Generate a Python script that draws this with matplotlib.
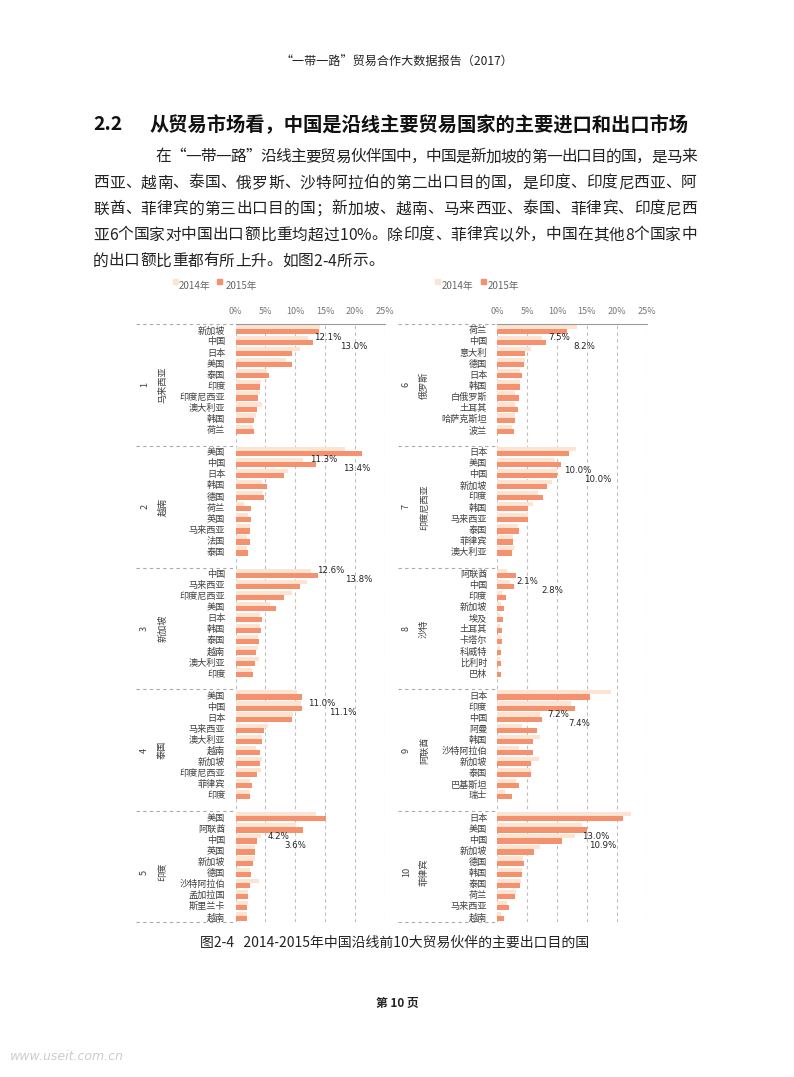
import numpy as np
import matplotlib
matplotlib.use("Agg")
import matplotlib.pyplot as plt
from matplotlib.patches import Rectangle

plt.rcParams['font.family'] = ['Noto Sans CJK SC', 'DejaVu Sans']

# 10 reporting countries, top-10 export destinations each (share of exports, %)
group_names = ["马来西亚", "越南", "新加坡", "泰国", "印度",
               "俄罗斯", "印度尼西亚", "沙特", "阿联酋", "菲律宾"]

partners = [
    ["新加坡", "中国", "日本", "美国", "泰国", "印度", "印度尼西亚", "澳大利亚", "韩国", "荷兰"],
    ["美国", "中国", "日本", "韩国", "德国", "荷兰", "英国", "马来西亚", "法国", "泰国"],
    ["中国", "马来西亚", "印度尼西亚", "美国", "日本", "韩国", "泰国", "越南", "澳大利亚", "印度"],
    ["美国", "中国", "日本", "马来西亚", "澳大利亚", "越南", "新加坡", "印度尼西亚", "菲律宾", "印度"],
    ["美国", "阿联酋", "中国", "英国", "新加坡", "德国", "沙特阿拉伯", "孟加拉国", "斯里兰卡", "越南"],
    ["荷兰", "中国", "意大利", "德国", "日本", "韩国", "白俄罗斯", "土耳其", "哈萨克斯坦", "波兰"],
    ["日本", "美国", "中国", "新加坡", "印度", "韩国", "马来西亚", "泰国", "菲律宾", "澳大利亚"],
    ["阿联酋", "中国", "印度", "新加坡", "埃及", "土耳其", "卡塔尔", "科威特", "比利时", "巴林"],
    ["日本", "印度", "中国", "阿曼", "韩国", "沙特阿拉伯", "新加坡", "泰国", "巴基斯坦", "瑞士"],
    ["日本", "美国", "中国", "新加坡", "德国", "韩国", "泰国", "荷兰", "马来西亚", "越南"],
]

share_2014 = [
    [14.1, 12.1, 10.8, 8.5, 5.2, 4.2, 4.1, 4.4, 3.5, 2.9],
    [18.3, 11.3, 8.7, 4.5, 4.6, 1.4, 2.1, 2.4, 1.9, 2.0],
    [12.6, 11.9, 9.4, 5.8, 4.1, 4.1, 3.8, 3.7, 3.9, 2.7],
    [10.3, 11.0, 9.6, 5.5, 4.4, 3.5, 4.5, 4.3, 2.4, 2.4],
    [13.4, 10.2, 4.2, 3.2, 3.3, 2.4, 4.0, 2.1, 2.1, 1.9],
    [13.4, 7.5, 5.7, 4.6, 3.8, 3.8, 3.0, 2.9, 3.0, 2.5],
    [13.1, 9.6, 10.0, 9.1, 6.8, 5.9, 5.1, 3.5, 2.7, 2.8],
    [1.7, 2.1, 0.8, 0.6, 0.4, 0.4, 0.6, 0.5, 0.45, 0.35],
    [19.0, 12.3, 7.2, 4.2, 7.2, 3.6, 7.0, 5.7, 3.1, 1.3],
    [22.4, 14.1, 13.0, 7.2, 4.3, 4.2, 3.9, 3.1, 1.6, 0.6],
]

share_2015 = [
    [13.9, 13.0, 9.4, 9.4, 5.6, 4.1, 3.7, 3.6, 3.1, 3.1],
    [21.2, 13.4, 8.1, 5.2, 4.8, 2.6, 2.6, 2.5, 2.4, 2.1],
    [13.8, 10.8, 8.1, 6.7, 4.4, 4.3, 3.9, 3.4, 3.3, 3.0],
    [11.2, 11.1, 9.4, 4.8, 4.5, 4.1, 4.1, 3.6, 2.8, 2.4],
    [15.2, 11.3, 3.6, 3.3, 2.9, 2.6, 2.5, 2.1, 2.0, 2.0],
    [11.6, 8.2, 4.7, 4.5, 4.2, 3.8, 3.6, 3.5, 3.0, 2.8],
    [12.0, 10.7, 10.0, 8.3, 7.7, 5.1, 5.1, 3.6, 2.6, 2.4],
    [3.2, 2.8, 1.45, 1.1, 0.95, 0.8, 0.8, 0.7, 0.7, 0.7],
    [15.5, 13.0, 7.4, 6.6, 5.9, 5.9, 5.7, 5.7, 3.6, 2.5],
    [21.0, 15.0, 10.9, 6.1, 4.5, 4.2, 3.8, 3.0, 2.0, 1.2],
]

x_ticks = [0, 5, 10, 15, 20, 25]
legend_labels = ["2014年", "2015年"]

header = "“一带一路”贸易合作大数据报告（2017）"
title_num = "2.2"
title = "从贸易市场看，中国是沿线主要贸易国家的主要进口和出口市场"
body = [
    "在“一带一路”沿线主要贸易伙伴国中，中国是新加坡的第一出口目的国，是马来",
    "西亚、越南、泰国、俄罗斯、沙特阿拉伯的第二出口目的国，是印度、印度尼西亚、阿",
    "联酋、菲律宾的第三出口目的国；新加坡、越南、马来西亚、泰国、菲律宾、印度尼西",
    "亚6个国家对中国出口额比重均超过10%。除印度、菲律宾以外，中国在其他8个国家中",
    "的出口额比重都有所上升。如图2-4所示。",
]
caption = "图2-4   2014-2015年中国沿线前10大贸易伙伴的主要出口目的国"
footer = "第 10 页"

light = "#fde4d2"
dark = "#f4916f"
grid_col = "#bdbdbd"

W, H = 794, 1077
fig = plt.figure(figsize=(W / 100, H / 100), dpi=100)
fig.patch.set_facecolor("white")


def fx(px):
    return px / W


def fy(py):
    return 1 - py / H


ax_left = fig.add_axes([fx(235.5), fy(922), 149.5 / W, 598 / H])
ax_right = fig.add_axes([fx(497.3), fy(922), 149.4 / W, 598 / H])

rows_per_group = 11
for col, ax in enumerate([ax_left, ax_right]):
    ax.set_xlim(0, 25)
    ax.set_ylim(54, 0)
    ax.set_axisbelow(True)
    for gi in range(5):
        g = col * 5 + gi
        base = gi * rows_per_group
        pos = base + np.arange(len(partners[g]))
        ax.barh(pos + 0.265, share_2014[g], height=0.37, color=light, zorder=2)
        ax.barh(pos + 0.685, share_2015[g], height=0.47, color=dark, zorder=3)
        for r, name in enumerate(partners[g]):
            ax.text(-1.7, pos[r] + 0.62, name, ha='right', va='center',
                    fontsize=6.6, color='#404040', clip_on=False)
        ci = partners[g].index("中国")
        v14 = share_2014[g][ci]
        v15 = share_2015[g][ci]
        ax.text(v14 + 1.1, pos[ci] + 0.24, f"{v14:.1f}%", ha='left', va='center',
                fontsize=6.2, color='#222222', family='DejaVu Sans', zorder=5)
        ax.text(v15 + 4.5, pos[ci] + 1.05, f"{v15:.1f}%", ha='left', va='center',
                fontsize=6.2, color='#222222', family='DejaVu Sans', zorder=5)
        ax.text(-15.2, base + 5.5, str(g + 1), rotation=90, ha='center', va='center',
                fontsize=6.6, color='#404040', clip_on=False)
        ax.text(-12.2, base + 5.5, group_names[g], rotation=90, ha='center', va='center',
                fontsize=6.6, color='#404040', clip_on=False)
        ax.plot([-16.7, 0], [base, base], ls=(0, (3, 3)), color='#aaaaaa', lw=0.8,
                clip_on=False)
    ax.plot([-16.7, 0], [54, 54], ls=(0, (3, 3)), color='#aaaaaa', lw=0.8, clip_on=False)

    ax.set_xticks(x_ticks)
    ax.set_xticklabels([f"{t}%" for t in x_ticks])
    ax.xaxis.tick_top()
    ax.tick_params(axis='x', length=0, pad=6, labelsize=6.5, labelcolor='#777777')
    ax.set_yticks([])
    ax.grid(axis='x', ls=(0, (3, 3)), color=grid_col, lw=0.8)
    for s in ['left', 'right', 'bottom']:
        ax.spines[s].set_visible(False)
    ax.spines['top'].set_color('#999999')
    ax.spines['top'].set_linewidth(0.8)

# legends above each column
for sq_x, txt_x in [((173, 217), (179, 225.5)), ((435, 481), (442, 488))]:
    for k, c in enumerate([light, dark]):
        fig.add_artist(Rectangle((fx(sq_x[k]), fy(283.5)), 4.5 / W, 4.5 / H,
                                 transform=fig.transFigure, color=c))
        fig.text(fx(txt_x[k]), fy(286.5), legend_labels[k], ha='left', va='center',
                 fontsize=7, color='#666666')

# page texts
fig.text(fx(397), fy(62), header, ha='center', va='center', fontsize=8.7,
         weight='medium', color='#222222')
fig.text(fx(93), fy(125), title_num, ha='left', va='center', fontsize=13.9,
         weight='bold', color='#111111')
fig.text(fx(150), fy(125), title, ha='left', va='center', fontsize=13.9,
         weight='bold', color='#111111')

# body paragraph, justified between the margins like the printed page
renderer = fig.canvas.get_renderer()
right_edge = 697
for i, line in enumerate(body):
    x0 = 155 if i == 0 else 93
    y = fy(157 + 26 * i)
    chars = [fig.text(0, y, ch, ha='left', va='center', fontsize=11.3, color='#222222')
             for ch in line]
    widths = [t.get_window_extent(renderer).width for t in chars]
    gap = 0.0
    if i < len(body) - 1:
        gap = (right_edge - x0 - sum(widths)) / (len(chars) - 1)
    x = x0
    for t, w in zip(chars, widths):
        t.set_x(fx(x))
        x += w + gap

fig.text(fx(395), fy(943), caption, ha='center', va='center', fontsize=10,
         color='#222222')
fig.text(fx(397), fy(1003), footer, ha='center', va='center', fontsize=8.5,
         weight='bold', color='#222222')
fig.text(fx(10), fy(1057), "www.useit.com.cn", ha='left', va='center', fontsize=9,
         style='italic', color='#cccccc', family='DejaVu Sans')

fig.savefig("out.png", dpi=100)
